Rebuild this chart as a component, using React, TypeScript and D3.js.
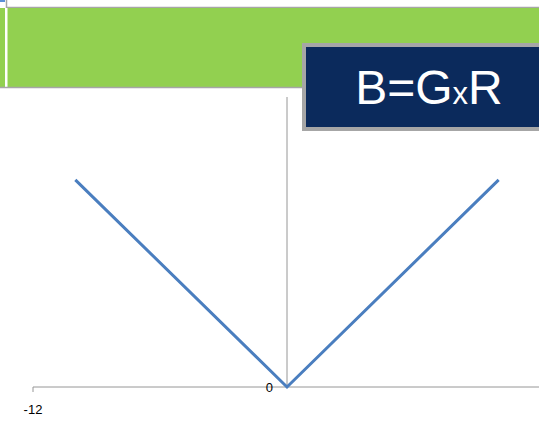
import React from "react";
import * as d3 from "d3";

const xValues = [-10, 0, 10];
const yValues = [10, 0, 10];
const xTickLabels = ["-12"];
const xDomain = [-12, 12];
const yDomain = [0, 14];
const titleMain = "B=G";
const titleSmall = "x";
const titleEnd = "R";

export default function App() {
  const W = 539, H = 425;
  const x = d3.scaleLinear().domain(xDomain).range([33, 541]);
  const y = d3.scaleLinear().domain(yDomain).range([387, 97]);
  const pts = xValues.map((v, i) => [x(v), y(yValues[i])] as [number, number]);
  const line = d3.line()(pts) || "";
  const font = "'Liberation Sans', Arial, sans-serif";
  return (
    <svg width={W} height={H} style={{ position: "absolute", left: 0, top: 0, display: "block" }}>
      <rect x={0} y={0} width={W} height={H} fill="#ffffff" />
      {/* top frame */}
      <rect x={0} y={0} width={5} height={2} fill="#5b8fd6" />
      <line x1={6.5} y1={0} x2={6.5} y2={8} stroke="#a6a6a6" strokeWidth={1.5} />
      <line x1={6} y1={7.5} x2={W} y2={7.5} stroke="#a6a6a6" strokeWidth={1.5} />
      {/* green band */}
      <rect x={0} y={8} width={W} height={79} fill="#92d050" />
      <rect x={5} y={8} width={2.5} height={79} fill="#ffffff" />
      <line x1={0} y1={87.5} x2={W} y2={87.5} stroke="#a6a6a6" strokeWidth={1.5} />
      {/* axes */}
      <line x1={x(0)} y1={y(yDomain[1])} x2={x(0)} y2={y(0)} stroke="#969696" strokeWidth={1} />
      <line x1={x(xDomain[0])} y1={y(0)} x2={W} y2={y(0)} stroke="#969696" strokeWidth={1} />
      <line x1={x(xDomain[0])} y1={y(0)} x2={x(xDomain[0])} y2={y(0) + 5} stroke="#969696" strokeWidth={1} />
      <text x={x(0) - 14} y={y(0) + 5} fontSize={13} fontFamily={font} fill="#000" textAnchor="end">0</text>
      <text x={x(-12)} y={y(0) + 27} fontSize={13} fontFamily={font} fill="#000" textAnchor="middle">{xTickLabels[0]}</text>
      {/* series */}
      <path d={line} fill="none" stroke="#4a7ebf" strokeWidth={3} />
      {/* title box */}
      <rect x={304} y={45} width={240} height={84} fill="#0b2a5c" stroke="#a6a6a6" strokeWidth={4} />
      <text x={429} y={104} fontSize={48} fontFamily={font} fill="#ffffff" textAnchor="middle">
        {titleMain}<tspan fontSize={31}>{titleSmall}</tspan>{titleEnd}
      </text>
    </svg>
  );
}
